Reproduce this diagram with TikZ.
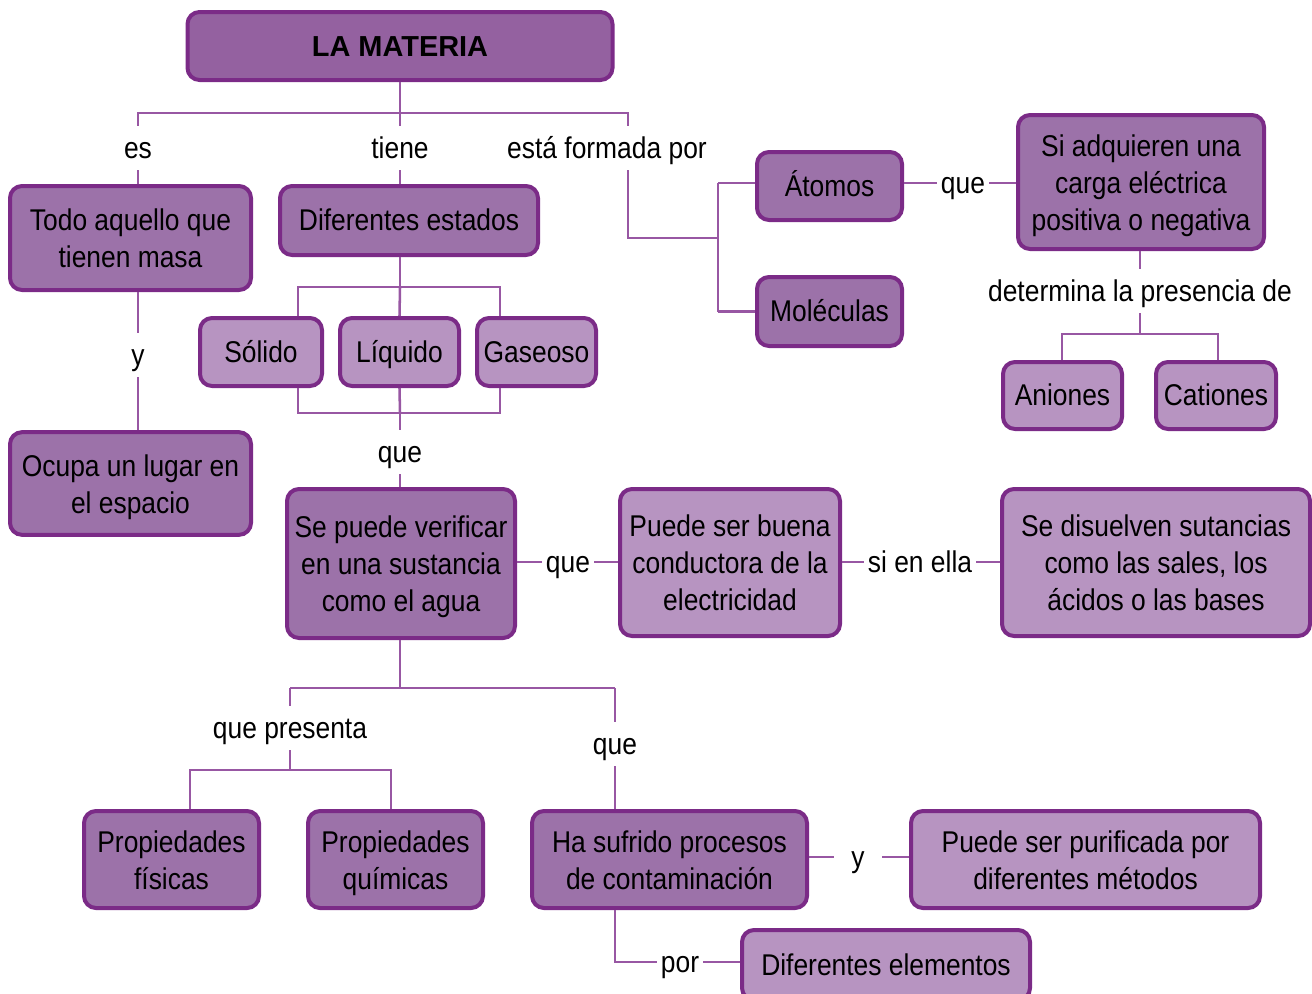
\documentclass[tikz,border=0pt]{standalone}
\usepackage{fontspec}
\setmainfont{Liberation Sans}[FakeStretch=0.88]
\newfontfamily\titlefont{Liberation Sans}
\definecolor{mborder}{HTML}{7B2B87}
\definecolor{mtitle}{HTML}{9461A0}
\definecolor{mdark}{HTML}{9C72A9}
\definecolor{mlight}{HTML}{B794C1}
\definecolor{mline}{HTML}{9857A3}
\newcommand{\mstrut}{\rule[-6pt]{0pt}{27pt}}
\tikzset{
  box/.style={draw=mborder,line width=3pt,rounded corners=9pt,align=center,inner sep=0pt,
    execute at begin node=\mstrut,execute at end node=\mstrut},
  two/.style={text height=50.25pt,text depth=6pt},
  three/.style={text height=78pt,text depth=6pt},
  dark/.style={box,fill=mdark},
  light/.style={box,fill=mlight},
  link/.style={draw=mline,line width=1.9pt},
  lbl/.style={inner sep=3pt,execute at begin node=\mstrut}
}
\begin{document}
\begin{tikzpicture}[x=0.75pt,y=-0.75pt,font=\fontsize{22.5}{27.75}\selectfont]
  \useasboundingbox (0,0) rectangle (1312,993);
  % boxes
  \node[box,fill=mtitle,minimum width=318.75pt,minimum height=51pt,font=\titlefont\bfseries\fontsize{21.7}{26}\selectfont] (materia) at (400,46) {LA MATERIA};
  \node[dark,two,minimum width=180.75pt,minimum height=78pt] (todo) at (130.5,238) {Todo aquello que\\tienen masa};
  \node[dark,two,minimum width=180.75pt,minimum height=77pt] (ocupa) at (130.5,483.5) {Ocupa un lugar en\\el espacio};
  \node[dark,minimum width=193.5pt,minimum height=51.75pt] (estados) at (409,220.5) {Diferentes estados};
  \node[light,minimum width=91.5pt,minimum height=51pt] (solido) at (261,352) {Sólido};
  \node[light,minimum width=89.25pt,minimum height=51pt] (liquido) at (399.5,352) {Líquido};
  \node[light,minimum width=89.25pt,minimum height=51pt] (gaseoso) at (536.5,352) {Gaseoso};
  \node[dark,three,minimum width=171pt,minimum height=111.75pt] (verificar) at (401,563.5) {Se puede verificar\\en una sustancia\\como el agua};
  \node[light,three,minimum width=165pt,minimum height=110.25pt] (conductora) at (730,562.5) {Puede ser buena\\conductora de la\\electricidad};
  \node[light,three,minimum width=231pt,minimum height=110.25pt] (disuelven) at (1156,562.5) {Se disuelven sutancias\\como las sales, los\\ácidos o las bases};
  \node[dark,minimum width=108.75pt,minimum height=51pt] (atomos) at (829.5,186) {Átomos};
  \node[dark,minimum width=108.75pt,minimum height=51.75pt] (moleculas) at (829.5,311.5) {Moléculas};
  \node[dark,three,minimum width=184.5pt,minimum height=100.5pt] (carga) at (1141,182) {Si adquieren una\\carga eléctrica\\positiva o negativa};
  \node[light,minimum width=89.25pt,minimum height=50.25pt] (aniones) at (1062.5,395.5) {Aniones};
  \node[light,minimum width=90pt,minimum height=50.25pt] (cationes) at (1216,395.5) {Cationes};
  \node[dark,two,minimum width=131.25pt,minimum height=72.75pt] (fisicas) at (171.5,859.5) {Propiedades\\físicas};
  \node[dark,two,minimum width=131.25pt,minimum height=72.75pt] (quimicas) at (395.5,859.5) {Propiedades\\químicas};
  \node[dark,two,minimum width=206.25pt,minimum height=72.75pt] (contaminacion) at (669.5,859.5) {Ha sufrido procesos\\de contaminación};
  \node[light,two,minimum width=261.75pt,minimum height=72.75pt] (purificada) at (1085.5,859.5) {Puede ser purificada por\\diferentes métodos};
  \node[light,minimum width=216pt,minimum height=52.5pt] (elementos) at (886,965) {Diferentes elementos};
  % labels
  \node[lbl] (es) at (138,148) {es};
  \node[lbl] (tiene) at (400,148) {tiene};
  \node[lbl] (formada) at (607,148) {está formada por};
  \node[lbl] (y1) at (138,355) {y};
  \node[lbl] (que1) at (400,452) {que};
  \node[lbl] (que2) at (568,562) {que};
  \node[lbl] (sienella) at (920,562) {si en ella};
  \node[lbl] (que3) at (963,183) {que};
  \node[lbl] (determina) at (1140,291) {determina la presencia de};
  \node[lbl] (qpres) at (290,728) {que presenta};
  \node[lbl] (que4) at (615,744) {que};
  \node[lbl,inner xsep=13pt] (y2) at (858,857) {y};
  \node[lbl] (por) at (680,962) {por};
  % junctions
  \coordinate (top) at (400,113);
  \coordinate (fj) at (628,113);
  \coordinate (fk) at (628,238);
  \coordinate (fm) at (718,238);
  \coordinate (sa) at (298,287);
  \coordinate (ej) at (400,287);
  \coordinate (ga) at (500,287);
  \coordinate (sb) at (298,413);
  \coordinate (lb) at (400,413);
  \coordinate (gb) at (500,413);
  \coordinate (dj) at (1140,334);
  \coordinate (aj) at (1062,334);
  \coordinate (cj) at (1218,334);
  \coordinate (vj) at (400,688);
  \coordinate (pj) at (290,688);
  \coordinate (hj) at (615,688);
  \coordinate (qj) at (290,770);
  \coordinate (fq) at (190,770);
  \coordinate (mq) at (391,770);
  \coordinate (pc) at (615,962);
  % connectors
  \draw[link] (materia.south -| top) -- (top);
  \draw[link] (top) -| (es);
  \draw[link] (es) -- (es |- todo.north);
  \draw[link] (top) -- (tiene) -- (tiene |- estados.north);
  \draw[link] (top) -- (fj) -- (fj |- formada.north);
  \draw[link] (fj |- formada.south) -- (fk) -- (fm);
  \draw[link] (fm |- 0,183) -- (fm |- moleculas.west);
  \draw[link] (fm |- 0,183) -- (atomos.west |- 0,183);
  \draw[link] (fm |- moleculas.west) -- (moleculas.west);
  \draw[link] (es |- todo.south) -- (y1) -- (y1 |- ocupa.north);
  \draw[link] (ej |- estados.south) -- (ej);
  \draw[link] (sa |- solido.north) -- (sa) -- (ga) -- (ga |- gaseoso.north);
  \draw[link] (ej) -- (liquido.north);
  \draw[link] (sa |- solido.south) -- (sb) -- (gb) -- (ga |- gaseoso.south);
  \draw[link] (liquido.south) -- (lb);
  \draw[link] (lb) -- (que1) -- (que1 |- verificar.north);
  \draw[link] (verificar.east |- que2) -- (que2) -- (que2 -| conductora.west);
  \draw[link] (conductora.east |- sienella) -- (sienella) -- (sienella -| disuelven.west);
  \draw[link] (atomos.east |- que3) -- (que3) -- (que3 -| carga.west);
  \draw[link] (carga.south -| determina) -- (determina) -- (dj);
  \draw[link] (aj |- aniones.north) -- (aj) -- (cj) -- (cj |- cationes.north);
  \draw[link] (verificar.south -| vj) -- (vj);
  \draw[link] (pj) -- (hj);
  \draw[link] (pj) -- (qpres) -- (qj);
  \draw[link] (fq |- fisicas.north) -- (fq) -- (mq) -- (mq |- quimicas.north);
  \draw[link] (hj) -- (que4) -- (que4 |- contaminacion.north);
  \draw[link] (contaminacion.east |- y2) -- (y2) -- (y2 -| purificada.west);
  \draw[link] (contaminacion.south -| pc) -- (pc) -- (por) -- (por -| elementos.west);
\end{tikzpicture}
\end{document}
